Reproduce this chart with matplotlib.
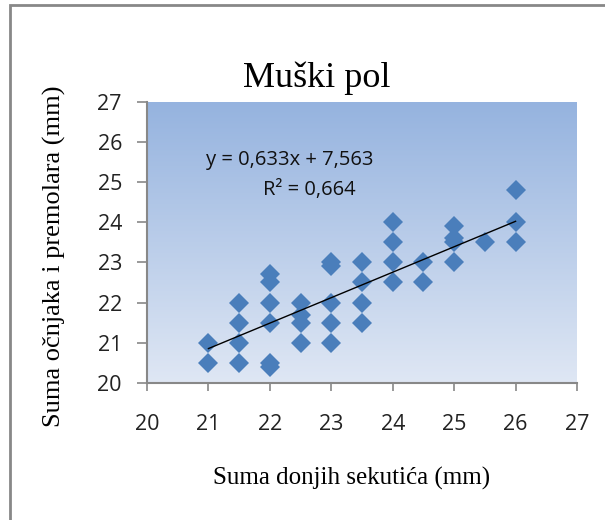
import numpy as np
import matplotlib.pyplot as plt
from matplotlib.colors import LinearSegmentedColormap
from matplotlib.patches import Rectangle

# suma donjih sekutića (x) i suma očnjaka i premolara (y), mm
x = [21, 21,
     21.5, 21.5, 21.5, 21.5,
     22, 22, 22, 22, 22, 22,
     22.5, 22.5, 22.5, 22.5,
     23, 23, 23, 23, 23,
     23.5, 23.5, 23.5, 23.5,
     24, 24, 24, 24,
     24.5, 24.5,
     25, 25, 25, 25,
     25.5,
     26, 26, 26]
y = [21, 20.5,
     22, 21.5, 21, 20.5,
     22.7, 22.5, 22, 21.5, 20.5, 20.4,
     22, 21.7, 21.5, 21,
     23, 22.9, 22, 21.5, 21,
     23, 22.5, 22, 21.5,
     24, 23.5, 23, 22.5,
     23, 22.5,
     23.9, 23.6, 23.5, 23,
     23.5,
     24.8, 24, 23.5]

slope = 0.633
intercept = 7.563
r2 = 0.664

ticks = [20, 21, 22, 23, 24, 25, 26, 27]

serif = 'Liberation Serif'
sans = 'Open Sans'
gray = '#888888'

fig = plt.figure(figsize=(6.05, 5.2), dpi=100)
ax = fig.add_axes([147/605, 1 - 383/520, 430/605, 281.5/520])

# plot area gradient
cmap = LinearSegmentedColormap.from_list('bg', ['#95b3df', '#dfe7f4'])
ax.imshow(np.linspace(0, 1, 256).reshape(-1, 1), cmap=cmap, aspect='auto',
          extent=[20, 27, 20, 27], origin='upper', zorder=0)

ax.plot(x, y, 'D', color='#4a7ebb', markersize=10, markeredgewidth=0, zorder=2)

xt = np.array([min(x), max(x)])
ax.plot(xt, slope * xt + intercept, color='black', lw=1, zorder=3)

eq = 'y = {:.3f}x + {:.3f}'.format(slope, intercept).replace('.', ',')
ax.text(22.32, 25.55, eq, ha='center', va='center', family=sans,
        fontsize=14.5, color='#111111')
ax.text(22.65, 24.8, 'R² = ' + '{:.3f}'.format(r2).replace('.', ','),
        ha='center', va='center', family=sans, fontsize=14.5, color='#111111')

ax.set_xlim(20, 27)
ax.set_ylim(20, 27)
ax.set_xticks(ticks)
ax.set_yticks(ticks)
for lab in ax.get_xticklabels() + ax.get_yticklabels():
    lab.set_family(sans)
    lab.set_fontsize(15.5)
    lab.set_color('#222222')
ax.tick_params(axis='x', direction='out', length=6, width=1.2, color=gray, pad=16)
ax.tick_params(axis='y', direction='out', length=7, width=1.2, color=gray, pad=11)
for s in ['top', 'right']:
    ax.spines[s].set_visible(False)
for s in ['left', 'bottom']:
    ax.spines[s].set_color(gray)
    ax.spines[s].set_linewidth(1.5)

fig.text(317/605, 1 - 78/520, 'Muški pol', ha='center', va='center',
         family=serif, fontsize=26)
fig.text(352/605, 1 - 478/520, 'Suma donjih sekutića (mm)', ha='center',
         va='center', family=serif, fontsize=18)
fig.text(54/605, 1 - 256/520, 'Suma očnjaka i premolara (mm)', ha='center',
         va='center', rotation=90, family=serif, fontsize=19)

# chart frame
fig.patches.append(Rectangle((10/605, -0.1), 1.2, 0.1 + 1 - 5/520,
                             transform=fig.transFigure, fill=False,
                             edgecolor=gray, lw=2))

fig.savefig('out.png', dpi=100)
